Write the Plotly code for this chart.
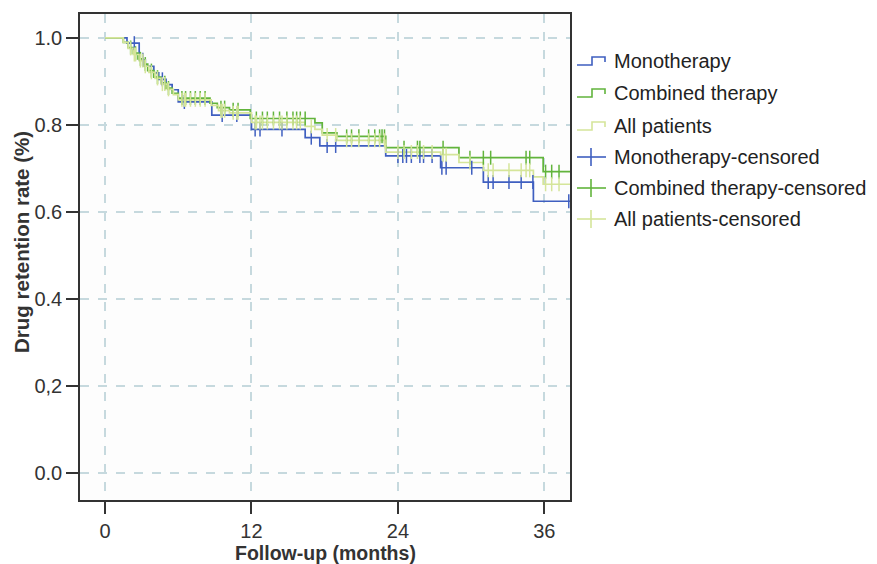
import numpy as np
import plotly.graph_objects as go

# ---------------- data ----------------
mono_t = [0, 1.8, 2.8, 3.3, 4.0, 4.4, 5.0, 5.5, 6.0, 8.75, 12.0, 16.4, 17.6, 23.0, 27.5, 31.0, 35.1, 38.1]
mono_s = [1.0, 0.988, 0.95, 0.935, 0.92, 0.905, 0.893, 0.881, 0.853, 0.823, 0.790, 0.771, 0.752, 0.729, 0.702, 0.669, 0.625, 0.625]

comb_t = [0, 1.5, 1.9, 2.3, 2.7, 3.1, 3.5, 4.0, 4.6, 5.0, 5.5, 6.0, 8.6, 9.2, 10.2, 11.9, 17.2, 17.8, 19.0, 23.0, 29.0, 35.9, 38.1]
comb_s = [1.0, 0.99, 0.978, 0.965, 0.952, 0.94, 0.925, 0.91, 0.897, 0.885, 0.873, 0.862, 0.85, 0.84, 0.835, 0.815, 0.805, 0.782, 0.774, 0.748, 0.725, 0.693, 0.693]

all_t = [0, 1.5, 1.9, 2.3, 2.8, 3.2, 3.6, 4.1, 4.6, 5.1, 5.6, 6.0, 8.7, 9.3, 10.2, 12.0, 16.4, 17.2, 17.8, 19.0, 23.0, 27.5, 29.0, 31.0, 35.1, 35.9, 38.1]
all_s = [1.0, 0.99, 0.976, 0.962, 0.948, 0.935, 0.921, 0.907, 0.894, 0.882, 0.87, 0.858, 0.845, 0.833, 0.828, 0.806, 0.797, 0.79, 0.777, 0.765, 0.738, 0.732, 0.714, 0.696, 0.681, 0.664, 0.664]

mono_cens = [2.4, 3.1, 4.7, 6.5, 9.6, 10.8, 12.3, 12.7, 14.5, 16.9, 18.2, 18.9, 24.0, 24.4, 24.7,
             25.1, 25.8, 26.1, 26.8, 27.6, 27.95, 30.05, 31.4, 31.8, 33.1, 34.1, 35.06, 38.0]
comb_cens = [2.1, 2.5, 2.9, 3.3, 3.8, 4.3, 4.9, 5.2, 6.3, 6.6, 7.0, 7.4, 7.8, 8.2, 9.5, 9.8, 10.5, 10.9,
             12.4, 12.9, 13.3, 13.8, 14.3, 14.9, 15.4, 15.7, 16.0, 16.4, 19.8, 20.2, 20.8, 21.6, 22.1,
             22.5, 22.7, 22.9, 24.5, 25.6, 25.8, 27.7, 29.9, 31.0, 31.6, 34.5, 34.8, 36.1, 36.6, 37.2]
all_cens = [2.1, 2.4, 2.5, 2.9, 3.1, 3.3, 3.8, 4.3, 4.7, 4.9, 5.2, 6.3, 6.5, 6.6, 7.0, 7.4, 7.8, 8.2,
            9.5, 9.6, 9.8, 10.5, 10.8, 10.9, 12.3, 12.4, 12.7, 12.9, 13.3, 13.8, 14.3, 14.5, 14.9, 15.4,
            15.7, 16.0, 16.9, 18.2, 18.9, 19.8, 20.2, 20.8, 21.6, 22.1, 22.5, 22.9, 24.0, 24.5, 25.1,
            25.6, 26.1, 26.8, 27.7, 27.95, 29.9, 31.4, 31.8, 33.1, 34.1, 34.5, 34.8, 36.1, 36.6, 37.2]

x_ticks = [0, 12, 24, 36]
y_ticks = [0.0, 0.2, 0.4, 0.6, 0.8, 1.0]
y_ticktext = ["0.0", "0,2", "0.4", "0.6", "0.8", "1.0"]

names = ["Monotherapy", "Combined therapy", "All patients"]
colors = ["#3f5fc0", "#62b43c", "#d5e59a"]

FONT = "Liberation Sans, Arial, sans-serif"


def step_value(ts, ss, t):
    idx = np.searchsorted(np.array(ts), t, side="right") - 1
    return ss[max(idx, 0)]


fig = go.Figure()
series = [(mono_t, mono_s, mono_cens), (comb_t, comb_s, comb_cens), (all_t, all_s, all_cens)]
for (ts, ss, _), name, col in zip(series, names, colors):
    fig.add_trace(go.Scatter(x=ts, y=ss, mode="lines", line=dict(shape="hv", color=col, width=1.7),
                             name=name, showlegend=False, hoverinfo="skip"))
for (ts, ss, cens), name, col in zip(series, names, colors):
    fig.add_trace(go.Scatter(x=cens, y=[step_value(ts, ss, c) for c in cens], mode="markers",
                             marker=dict(symbol="line-ns", size=10, line=dict(color=col, width=1.5)),
                             name=name + "-censored", showlegend=False, hoverinfo="skip"))

# ---------------- layout in reference pixels (page offset by body margin) ----------------
OFF = 8
W, H = 877 - OFF, 564 - OFF
L, R, T, B = 80 - OFF, 570 - OFF, 14 - OFF, 500 - OFF


def px(xp):
    return (xp - OFF - L) / (R - L)


def py(yp):
    return (B - (yp - OFF)) / (B - T)


legend_y = [61, 93, 126, 157, 188, 219]
legend_labels = names + [n + "-censored" for n in names]
shapes = []
annotations = []
for i, (lab, yc) in enumerate(zip(legend_labels, legend_y)):
    col = colors[i % 3]
    if i < 3:
        path = (f"M {px(577)},{py(yc+4)} L {px(592)},{py(yc+4)} L {px(592)},{py(yc-4)} "
                f"L {px(605)},{py(yc-4)} L {px(605)},{py(yc+1)}")
        shapes.append(dict(type="path", path=path, xref="paper", yref="paper",
                           line=dict(color=col, width=1.6)))
    else:
        shapes.append(dict(type="line", xref="paper", yref="paper", x0=px(577), x1=px(606),
                           y0=py(yc), y1=py(yc), line=dict(color=col, width=1.6)))
        shapes.append(dict(type="line", xref="paper", yref="paper", x0=px(591), x1=px(591),
                           y0=py(yc - 9), y1=py(yc + 9), line=dict(color=col, width=1.6)))
    annotations.append(dict(text=lab, xref="paper", yref="paper", x=px(612), y=py(yc),
                            xanchor="left", yanchor="middle", showarrow=False,
                            font=dict(family=FONT, size=20, color="#222222")))

annotations.append(dict(text="<b>Follow-up (months)</b>", xref="paper", yref="paper",
                        x=px(325), y=py(553), xanchor="center", yanchor="middle", showarrow=False,
                        font=dict(family=FONT, size=19.5, color="#333333")))
annotations.append(dict(text="<b>Drug retention rate (%)</b>", xref="paper", yref="paper",
                        x=px(21), y=py(242), xanchor="center", yanchor="middle", showarrow=False,
                        textangle=-90, font=dict(family=FONT, size=20.5, color="#333333")))

fig.update_layout(
    width=W, height=H,
    margin=dict(l=L, r=W - R, t=T, b=H - B),
    paper_bgcolor="white", plot_bgcolor="#fdfdfd",
    font=dict(family=FONT, color="#333333"),
    shapes=shapes, annotations=annotations,
    showlegend=False,
)
axis_common = dict(showgrid=True, gridcolor="#c6d9de", griddash="dash", gridwidth=1.6,
                   zeroline=False, showline=True, mirror=True, linecolor="#333333", linewidth=1.6,
                   ticks="outside", ticklen=12, tickcolor="#333333", tickwidth=1.6,
                   automargin=False,
                   tickfont=dict(family=FONT, size=20, color="#333333"))
fig.update_xaxes(range=[-2.05, 38.1], tickvals=x_ticks, **axis_common)
fig.update_yaxes(range=[-0.061, 1.055], tickvals=y_ticks, ticktext=y_ticktext, **axis_common)

fig.write_html("out.html")
